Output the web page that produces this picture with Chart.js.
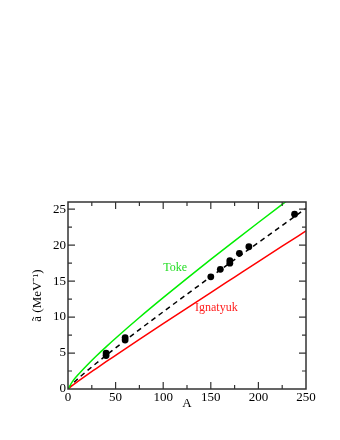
<!DOCTYPE html>
<html>
<head>
<meta charset="utf-8">
<script src="https://cdn.jsdelivr.net/npm/chart.js@4/dist/chart.umd.min.js"></script>
<style>
html,body{margin:0;padding:0;background:#fff;}
#wrap{width:340px;height:440px;}
</style>
</head>
<body>
<div id="wrap"><canvas id="c" width="340" height="440"></canvas></div>
<script>
// ---- data ----
const curveA    = [0, 5, 10, 20, 30, 40, 50, 75, 100, 125, 150, 175, 200, 225, 250];
const tokeVals  = [0, 1.10, 1.90, 3.31, 4.62, 5.86, 7.06, 9.94, 12.7, 15.39, 18.02, 20.6, 23.15, 25.67, 28.17];
const ignatVals = [0, 0.55, 1.03, 1.97, 2.88, 3.79, 4.68, 6.89, 9.08, 11.25, 13.41, 15.56, 17.71, 19.85, 21.98];
const fitVals   = [0, 0.76, 1.38, 2.52, 3.61, 4.67, 5.71, 8.25, 10.73, 13.18, 15.6, 18.0, 20.37, 22.74, 25.1];
const dataA     = [40, 40, 60, 60, 150, 160, 170, 170, 180, 190, 238];
const dataVals  = [4.65, 5.0, 6.8, 7.15, 15.6, 16.64, 17.5, 17.85, 18.86, 19.78, 24.3];
const xTicks    = [0, 50, 100, 150, 200, 250];
const yTicks    = [0, 5, 10, 15, 20, 25];
const labels    = [
  {text: 'Toke', a: 112.6, v: 16.8, color: '#22dd22'},
  {text: 'Ignatyuk', a: 155.8, v: 11.3, color: '#ff2020'}
];

const SERIF = '"Liberation Serif", "Times New Roman", serif';
const pts = (xs, ys) => xs.map((x, i) => ({x: x, y: ys[i]}));

const frameTicks = {
  id: 'frameTicks',
  afterDatasetsDraw(chart) {
    const ctx = chart.ctx, a = chart.chartArea;
    const xs = chart.scales.x, ys = chart.scales.y;
    ctx.save();
    ctx.strokeStyle = '#333';
    ctx.lineWidth = 1.5;
    ctx.strokeRect(a.left, a.top, a.right - a.left, a.bottom - a.top);
    ctx.lineWidth = 1.2;
    ctx.beginPath();
    for (let v = 25; v < 250; v += 25) {
      const p = xs.getPixelForValue(v);
      const len = (v % 50 === 0) ? 7 : 4;
      ctx.moveTo(p, a.bottom); ctx.lineTo(p, a.bottom - len);
      ctx.moveTo(p, a.top); ctx.lineTo(p, a.top + len);
    }
    for (let v = 2.5; v < 26; v += 2.5) {
      const p = ys.getPixelForValue(v);
      const len = (Math.abs(v % 5) < 1e-6) ? 7 : 4;
      ctx.moveTo(a.left, p); ctx.lineTo(a.left + len, p);
      ctx.moveTo(a.right, p); ctx.lineTo(a.right - len, p);
    }
    ctx.stroke();
    ctx.font = '12px ' + SERIF;
    ctx.textAlign = 'center';
    ctx.textBaseline = 'middle';
    labels.forEach(l => {
      ctx.fillStyle = l.color;
      ctx.fillText(l.text, xs.getPixelForValue(l.a), ys.getPixelForValue(l.v));
    });
    ctx.restore();
  }
};

new Chart(document.getElementById('c'), {
  type: 'scatter',
  data: {
    datasets: [
      {type: 'line', data: pts(curveA, tokeVals), borderColor: '#00ee00', borderWidth: 1.5, pointRadius: 0, cubicInterpolationMode: 'monotone', fill: false},
      {type: 'line', data: pts(curveA, ignatVals), borderColor: '#ff0000', borderWidth: 1.5, pointRadius: 0, cubicInterpolationMode: 'monotone', fill: false},
      {type: 'line', data: pts(curveA, fitVals), borderColor: '#000', borderWidth: 1.5, borderDash: [5, 4], pointRadius: 0, cubicInterpolationMode: 'monotone', fill: false},
      {type: 'scatter', data: pts(dataA, dataVals), backgroundColor: '#000', borderColor: '#000', pointRadius: 3.4, borderWidth: 0}
    ]
  },
  options: {
    responsive: false,
    animation: false,
    devicePixelRatio: 1,
    layout: {padding: {left: 30, top: 202, right: 34, bottom: 29}},
    plugins: {legend: {display: false}, tooltip: {enabled: false}},
    scales: {
      x: {
        type: 'linear', min: 0, max: 250,
        afterBuildTicks: s => { s.ticks = xTicks.map(v => ({value: v})); },
        afterFit: s => { s.height = 22; },
        grid: {display: false, drawTicks: false},
        border: {display: false},
        ticks: {padding: 1, color: '#000', font: {family: SERIF, size: 13}, maxRotation: 0},
        title: {display: true, text: 'A', color: '#000', font: {family: SERIF, size: 13}, padding: {top: 0, bottom: 0}}
      },
      y: {
        type: 'linear', min: 0, max: 26,
        afterBuildTicks: s => { s.ticks = yTicks.map(v => ({value: v})); },
        afterFit: s => { s.width = 38; },
        grid: {display: false, drawTicks: false},
        border: {display: false},
        ticks: {padding: 2, color: '#000', font: {family: SERIF, size: 13}},
        title: {display: true, text: 'ã (MeV⁻¹)', color: '#000', font: {family: SERIF, size: 13}, padding: {top: 0, bottom: 4}}
      }
    }
  },
  plugins: [frameTicks]
});
</script>
</body>
</html>
